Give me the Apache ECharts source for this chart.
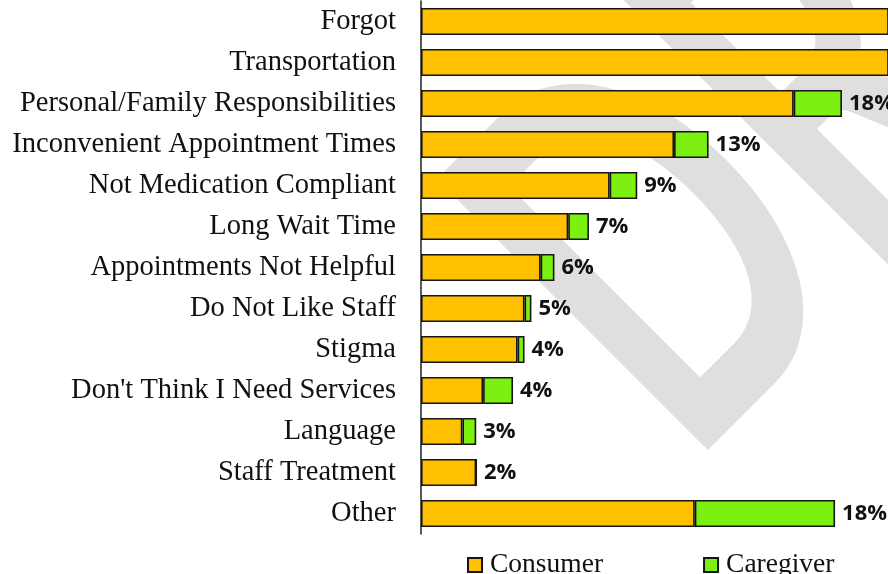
<!DOCTYPE html>
<html lang="en">
<head>
    <meta charset="UTF-8"/>
    <title>Reasons for Missed Appointments</title>
    <script src="https://cdn.jsdelivr.net/npm/echarts@6.0.0/dist/echarts.min.js"></script>
    <style>
        html, body { margin: 0; padding: 0; background: #ffffff; }
        #chart { width: 888px; height: 574px; }
    </style>
</head>
<body>
    <div id="chart"></div>
    <script>
        // categories top to bottom
        const reasons = [
            'Forgot', 'Transportation', 'Personal/Family Responsibilities',
            'Inconvenient Appointment Times', 'Not Medication Compliant', 'Long Wait Time',
            'Appointments Not Helpful', 'Do Not Like Staff', 'Stigma',
            "Don't Think I Need Services", 'Language', 'Staff Treatment', 'Other'
        ];
        // bar lengths (the first two run past the edge)
        const consumer  = [24.0, 23.0, 16.2, 11.0, 8.2, 6.4, 5.2, 4.5, 4.2, 2.7, 1.8, 2.4, 11.9];
        const caregiver = [1.0, 1.0, 2.1, 1.5, 1.2, 0.9, 0.6, 0.3, 0.3, 1.3, 0.6, 0, 6.1];
        // total labels (first two are off the picture)
        const totals = ['', '', '18%', '13%', '9%', '7%', '6%', '5%', '4%', '4%', '3%', '2%', '18%'];
        const axisMax = 20.3;

        const chart = echarts.init(document.getElementById('chart'));
        const edge = { borderColor: '#151515', borderWidth: 1.6 };

        chart.setOption({
            animation: false,
            backgroundColor: '#ffffff',
            grid: { left: 421, right: 0, top: 1, height: 533, containLabel: false },
            xAxis: {
                type: 'value', min: 0, max: axisMax,
                axisLine: { show: false }, axisTick: { show: false },
                axisLabel: { show: false }, splitLine: { show: false }
            },
            yAxis: {
                type: 'category', inverse: true, data: reasons,
                axisLine: { show: true, lineStyle: { color: '#222', width: 1.5 } },
                axisTick: { show: false },
                axisLabel: {
                    color: '#111', fontFamily: 'Liberation Serif', fontSize: 28.5, margin: 25
                }
            },
            legend: {
                left: 467, top: 551, padding: 0,
                itemWidth: 14, itemHeight: 14, itemGap: 100,
                icon: 'rect',
                textStyle: { fontFamily: 'Liberation Serif', fontSize: 27.5, color: '#111', padding: [0, 0, 0, 3] },
                data: ['Consumer', 'Caregiver']
            },
            // faint stretched watermark behind the bars
            graphic: [{
                type: 'text',
                x: 755, y: 536,
                rotation: Math.PI / 4,
                scaleY: 1.56,
                z: -10,
                silent: true,
                style: {
                    text: 'DRAFT',
                    fontFamily: 'Lato', fontWeight: 'bold', fontSize: 340,
                    fill: '#dfdfdf',
                    textAlign: 'left', textVerticalAlign: 'bottom'
                }
            }],
            series: [
                {
                    name: 'Consumer', type: 'bar', stack: 'all',
                    barWidth: 27, data: consumer,
                    itemStyle: Object.assign({ color: '#FFC000' }, edge)
                },
                {
                    name: 'Caregiver', type: 'bar', stack: 'all',
                    barWidth: 27, data: caregiver,
                    itemStyle: Object.assign({ color: '#7CF011' }, edge),
                    label: {
                        show: true, position: 'right', distance: 7,
                        formatter: p => totals[p.dataIndex],
                        fontFamily: 'Open Sans', fontWeight: 'bold', fontSize: 22, color: '#111'
                    }
                }
            ]
        });
    </script>
</body>
</html>
